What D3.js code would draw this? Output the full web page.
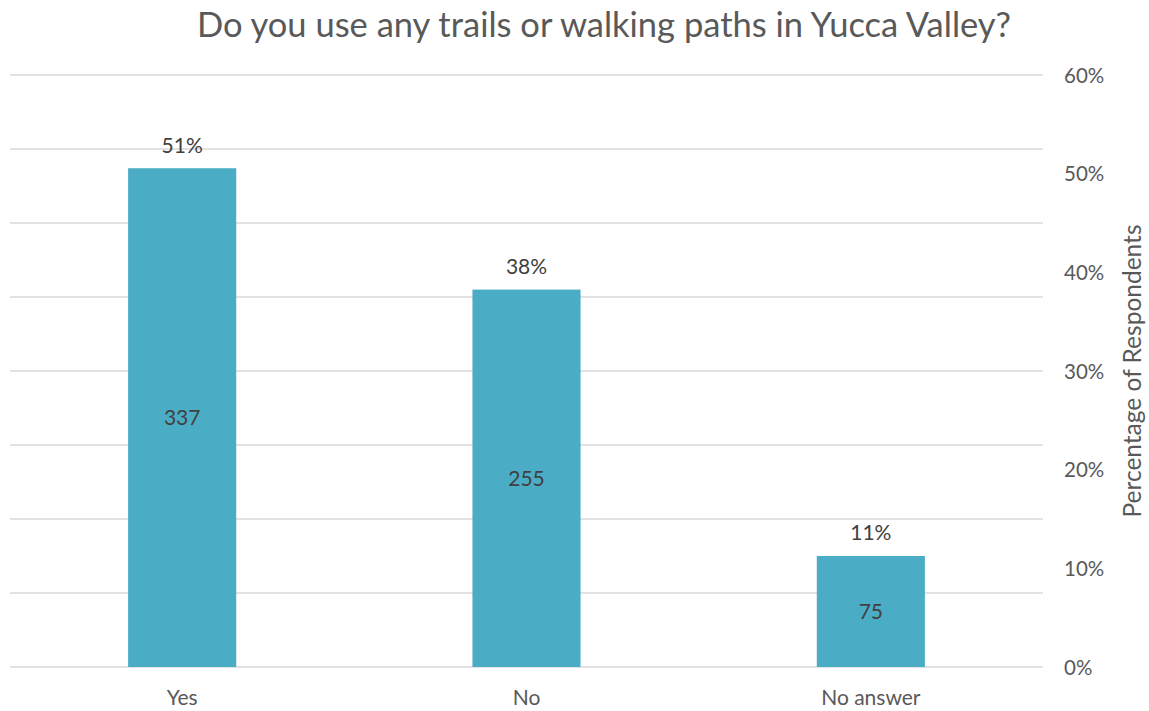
<!DOCTYPE html>
<html>
<head>
<meta charset="utf-8">
<script src="https://cdn.jsdelivr.net/npm/d3@7"></script>
<style>
  body { margin: 0; background: #fff; }
  text { font-family: Lato, "Open Sans", sans-serif; }
</style>
</head>
<body>
<script>
const w = 1149;
const h = 711;

const categories = ["Yes", "No", "No answer"];
const counts = [337, 255, 75];
const percentLabels = ["51%", "38%", "11%"];
const countTicks = [0, 50, 100, 150, 200, 250, 300, 350, 400];
const percentTicks = [0, 0.1, 0.2, 0.3, 0.4, 0.5, 0.6];

const plotLeft = 10, plotRight = 1043, plotTop = 75, plotBottom = 667;

const svg = d3.select("body")
  .append("svg")
  .attr("width", w)
  .attr("height", h);

const xScale = d3.scaleBand()
  .domain(categories)
  .range([plotLeft, plotRight])
  .paddingInner(0.686)
  .paddingOuter(0.343);

// left (hidden) count scale drives bars and gridlines
const yScale = d3.scaleLinear()
  .domain([0, 400])
  .range([plotBottom, plotTop]);

// right percentage axis
const pScale = d3.scaleLinear()
  .domain([0, 0.6])
  .range([plotBottom, plotTop]);

// gridlines
svg.append("g")
  .selectAll("line")
  .data(countTicks)
  .enter()
  .append("line")
  .attr("x1", plotLeft)
  .attr("x2", plotRight)
  .attr("y1", d => yScale(d))
  .attr("y2", d => yScale(d))
  .attr("stroke", "#d9d9d9")
  .attr("stroke-width", 1.5);

// bars
svg.append("g")
  .selectAll("rect")
  .data(counts)
  .enter()
  .append("rect")
  .attr("x", (d, i) => xScale(categories[i]))
  .attr("y", d => yScale(d))
  .attr("width", xScale.bandwidth())
  .attr("height", d => yScale(0) - yScale(d))
  .attr("fill", "#4bacc6");

// count labels inside bars
svg.append("g")
  .selectAll("text")
  .data(counts)
  .enter()
  .append("text")
  .attr("x", (d, i) => xScale(categories[i]) + xScale.bandwidth() / 2)
  .attr("y", d => (yScale(d) + yScale(0)) / 2)
  .attr("dy", "0.35em")
  .attr("text-anchor", "middle")
  .attr("fill", "#404040")
  .style("font-size", "21px")
  .text(d => d);

// percentage labels above bars
svg.append("g")
  .selectAll("text")
  .data(counts)
  .enter()
  .append("text")
  .attr("x", (d, i) => xScale(categories[i]) + xScale.bandwidth() / 2)
  .attr("y", d => yScale(d) - 23)
  .attr("dy", "0.35em")
  .attr("text-anchor", "middle")
  .attr("fill", "#404040")
  .style("font-size", "21px")
  .text((d, i) => percentLabels[i]);

// x axis labels
const xAxis = d3.axisBottom(xScale).tickSize(0).tickPadding(0);
const gx = svg.append("g")
  .attr("transform", "translate(0," + plotBottom + ")")
  .call(xAxis);
gx.select(".domain").remove();
gx.selectAll("text")
  .attr("y", 31)
  .attr("dy", "0.35em")
  .attr("fill", "#595959")
  .style("font-size", "21px")
  .style("font-family", "Lato, sans-serif");

// right axis
const yAxis = d3.axisRight(pScale)
  .tickValues(percentTicks)
  .tickSize(0)
  .tickPadding(0)
  .tickFormat(d3.format(".0%"));
const gy = svg.append("g")
  .attr("transform", "translate(1064,0)")
  .call(yAxis);
gy.select(".domain").remove();
gy.selectAll("text")
  .attr("dy", "0.35em")
  .attr("fill", "#595959")
  .style("font-size", "20.5px")
  .style("font-family", "Lato, sans-serif");

svg.append("text")
  .attr("transform", "translate(1132," + (plotTop + plotBottom) / 2 + ") rotate(-90)")
  .attr("text-anchor", "middle")
  .attr("dy", "0.35em")
  .attr("fill", "#595959")
  .style("font-size", "24.5px")
  .text("Percentage of Respondents");

svg.append("text")
  .attr("x", 604)
  .attr("y", 25)
  .attr("dy", "0.35em")
  .attr("text-anchor", "middle")
  .attr("fill", "#595959")
  .style("font-size", "34.5px")
  .text("Do you use any trails or walking paths in Yucca Valley?");
</script>
</body>
</html>
